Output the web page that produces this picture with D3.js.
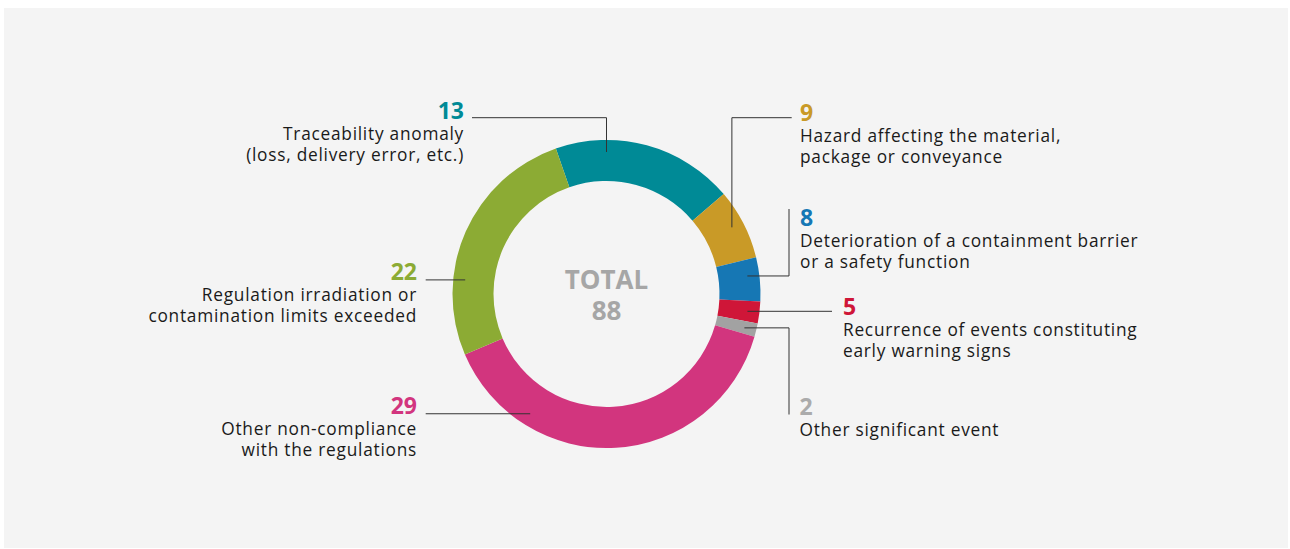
<!DOCTYPE html>
<html>
<head>
<meta charset="utf-8">
<script src="https://cdn.jsdelivr.net/npm/d3@7"></script>
<style>
  html, body { margin: 0; padding: 0; background: #ffffff; }
  svg { display: block; }
  .num { font-family: "Open Sans", sans-serif; font-weight: 700; }
  .lbl { font-family: "Open Sans", sans-serif; fill: #1a1a1a; letter-spacing: 0.75px; }
</style>
</head>
<body>
<svg id="chart" width="1290" height="549"></svg>
<script>
// categories, clockwise from the top-left
var categories = [
    ['Traceability anomaly', '(loss, delivery error, etc.)'],
    ['Hazard affecting the material,', 'package or conveyance'],
    ['Deterioration of a containment barrier', 'or a safety function'],
    ['Recurrence of events constituting', 'early warning signs'],
    ['Other significant event'],
    ['Other non-compliance', 'with the regulations'],
    ['Regulation irradiation or', 'contamination limits exceeded']
];
var counts = [13, 9, 8, 5, 2, 29, 22];
var total = 88;
// slice sizes as drawn in the reference (%), they do not follow the counts
var sliceShares = [19.1, 7.4, 4.6, 2.3, 1.4, 39.1, 26.1];
var colors = ['#008a96', '#c99a27', '#1677b4', '#cf1638', '#a2a2a2', '#d2357e', '#8cab34'];
var numColors = ['#008a96', '#c99a27', '#1677b4', '#cf1638', '#ababab', '#d2357e', '#8cab34'];

// label placement (layout only)
var layout = [
    {anchor: 'end',   x: 464, y: 119,   angle: 0,     leader: 'hv', lx: 472, ly: 117.7},
    {anchor: 'start', x: 800, y: 121,   angle: 62,    leader: 'hv', lx: 791.7, ly: 117.7},
    {anchor: 'start', x: 800, y: 226,   angle: 82.7,  leader: 'vh', lx: 789, ly: 209},
    {anchor: 'start', x: 843, y: 315,   angle: 97,    leader: 'h',  lx: 832},
    {anchor: 'start', x: 799.5, y: 415, angle: 103.8, leader: 'vh', lx: 789, ly: 414.5},
    {anchor: 'end',   x: 417, y: 414.3, angle: 212.5, leader: 'h',  lx: 425.7},
    {anchor: 'end',   x: 417, y: 280,   angle: 275.7, leader: 'h',  lx: 425.7}
];

var cx = 606.5, cy = 294;
var outerR = 154, innerR = 113, leaderR = 142;

var svg = d3.select('#chart');

svg.append('rect')
    .attr('x', 4).attr('y', 8)
    .attr('width', 1284).attr('height', 540)
    .attr('fill', '#f4f4f4');

var rad = Math.PI / 180;
var pie = d3.pie()
    .sort(null)
    .value(d => d)
    .startAngle(-19.2 * rad)
    .endAngle(340.8 * rad);

var arc = d3.arc().innerRadius(innerR).outerRadius(outerR);

var g = svg.append('g').attr('transform', 'translate(' + cx + ',' + cy + ')');

g.selectAll('path.slice')
    .data(pie(sliceShares))
    .enter().append('path')
    .attr('class', 'slice')
    .attr('d', arc)
    .attr('fill', (d, i) => colors[i]);

// centre total
g.append('text')
    .attr('class', 'num')
    .attr('text-anchor', 'middle')
    .attr('y', -4.7)
    .attr('font-size', 26)
    .attr('fill', '#a6a6a6')
    .text('TOTAL');
g.append('text')
    .attr('class', 'num')
    .attr('text-anchor', 'middle')
    .attr('y', 26)
    .attr('font-size', 26)
    .attr('fill', '#a6a6a6')
    .text(total);

function ringPoint(angle) {
    return [cx + leaderR * Math.sin(angle * rad), cy - leaderR * Math.cos(angle * rad)];
}

layout.forEach(function (L, i) {
    var p = ringPoint(L.angle);
    var pts;
    if (L.leader === 'hv') {
        pts = [[L.lx, L.ly], [p[0], L.ly], p];
    } else if (L.leader === 'vh') {
        pts = [[L.lx, L.ly], [L.lx, p[1]], p];
    } else {
        pts = [[L.lx, p[1]], p];
    }
    svg.append('path')
        .attr('d', d3.line()(pts))
        .attr('fill', 'none')
        .attr('stroke', '#333333')
        .attr('stroke-width', 1);

    svg.append('text')
        .attr('class', 'num')
        .attr('x', L.x).attr('y', L.y)
        .attr('text-anchor', L.anchor)
        .attr('font-size', 23)
        .attr('fill', numColors[i])
        .text(counts[i]);

    categories[i].forEach(function (line, j) {
        svg.append('text')
            .attr('class', 'lbl')
            .attr('x', L.x).attr('y', L.y + 21 + j * 20.5)
            .attr('text-anchor', L.anchor)
            .attr('font-size', 17.3)
            .text(line);
    });
});
</script>
</body>
</html>
